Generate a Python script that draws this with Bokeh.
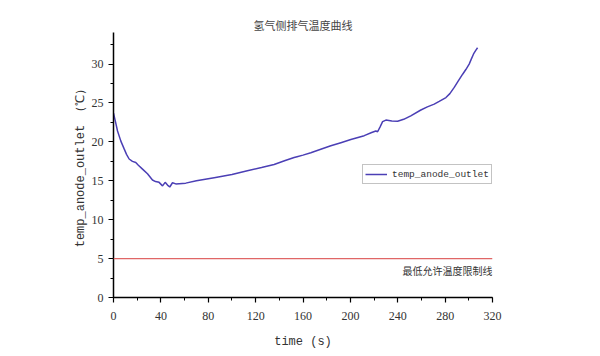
from bokeh.plotting import figure
from bokeh.models import Span, Label, Legend, LegendItem, SingleIntervalTicker
from bokeh.embed import file_html
from bokeh.resources import INLINE

# data
time_s = [0, 1.5, 3.4, 6.2, 9, 11, 13.2, 16, 18.8, 21, 24.5, 28.7, 32.9, 35.5, 38.5,
          41.4, 43.6, 45.6, 47.5, 49.8, 52.6, 61, 70, 85, 100, 113, 125, 135.6, 145,
          152.5, 155, 160, 166.6, 175, 183.5, 192, 200.4, 211.7, 218, 221.5, 223, 225,
          227.2, 230, 235, 239.9, 245, 251, 259.5, 265, 270.8, 275, 280.7, 284, 287.7,
          291, 294.8, 297.5, 300.3, 302, 304, 306, 307.4]
temp_anode_outlet = [23.7, 22.7, 21.4, 20.1, 19.1, 18.4, 17.8, 17.5, 17.35, 17.0, 16.5,
                     15.9, 15.1, 14.9, 14.8, 14.35, 14.8, 14.45, 14.2, 14.75, 14.6, 14.7,
                     15.0, 15.4, 15.8, 16.3, 16.7, 17.1, 17.6, 18.0, 18.1, 18.3, 18.6,
                     19.05, 19.5, 19.9, 20.3, 20.8, 21.2, 21.4, 21.3, 21.9, 22.6, 22.8,
                     22.7, 22.65, 22.9, 23.35, 24.1, 24.5, 24.85, 25.2, 25.7, 26.2, 27.0,
                     27.8, 28.7, 29.3, 30.0, 30.6, 31.3, 31.8, 32.1]
limit_temp = 5
limit_label = "最低允许温度限制线"
title_text = "氢气侧排气温度曲线"
x_label = "time (s)"
y_label = "temp_anode_outlet （℃）"
series_name = "temp_anode_outlet"

p = figure(width=592, height=354, output_backend="svg", toolbar_location=None,
           x_range=(0, 320), y_range=(0, 34.06),
           min_border_left=113, min_border_right=100, min_border_top=32,
           min_border_bottom=57)
p.outline_line_color = None
p.grid.grid_line_color = None

p.title.text = title_text
p.title.align = "center"
p.title.text_font = "Noto Sans CJK SC"
p.title.text_font_size = "11px"
p.title.text_font_style = "normal"
p.title.text_color = "#444444"
p.title.standoff = 0

p.xaxis.ticker = SingleIntervalTicker(interval=40, num_minor_ticks=2)
p.yaxis.ticker = SingleIntervalTicker(interval=5, num_minor_ticks=2)

for ax in (p.xaxis[0], p.yaxis[0]):
    ax.axis_line_color = "black"
    ax.axis_line_width = 1.5
    ax.major_tick_line_color = "black"
    ax.major_tick_line_width = 1.2
    ax.minor_tick_line_color = "black"
    ax.major_tick_out = 5
    ax.major_tick_in = 0
    ax.minor_tick_out = 3
    ax.minor_tick_in = 0
    ax.major_label_text_font = "Liberation Serif"
    ax.major_label_text_font_size = "12px"
    ax.major_label_text_color = "#333333"
    ax.axis_label_text_font = "Liberation Mono"
    ax.axis_label_text_font_style = "normal"
    ax.axis_label_text_color = "#333333"

p.xaxis.axis_label = x_label
p.xaxis.axis_label_text_font_size = "12px"
p.xaxis.major_label_standoff = 9
p.xaxis.axis_label_standoff = 12
p.yaxis.axis_label = y_label
p.yaxis.axis_label_text_font_size = "12px"
p.yaxis.major_label_standoff = 5
p.yaxis.axis_label_standoff = 1

p.add_layout(Span(location=limit_temp, dimension="width", line_color="#e06666",
                  line_width=1.2))
p.add_layout(Label(x=320, y=limit_temp, text=limit_label, text_align="right",
                   text_baseline="top", y_offset=-4, text_font="Noto Sans CJK SC",
                   text_font_size="10px", text_color="#333333"))

r = p.line(time_s, temp_anode_outlet, line_color="#4b3fb5", line_width=1.5)

legend = Legend(items=[LegendItem(label=series_name, renderers=[r])],
                location=(249, 113), border_line_color="#888888",
                border_line_width=1, background_fill_alpha=1,
                label_text_font="Liberation Mono", label_text_font_size="9.5px",
                label_text_color="#333333", glyph_width=22, glyph_height=14,
                label_height=14, padding=2, margin=0, spacing=0,
                label_standoff=5)
p.add_layout(legend, "center")

open("out.html", "w").write(file_html(p, INLINE))
